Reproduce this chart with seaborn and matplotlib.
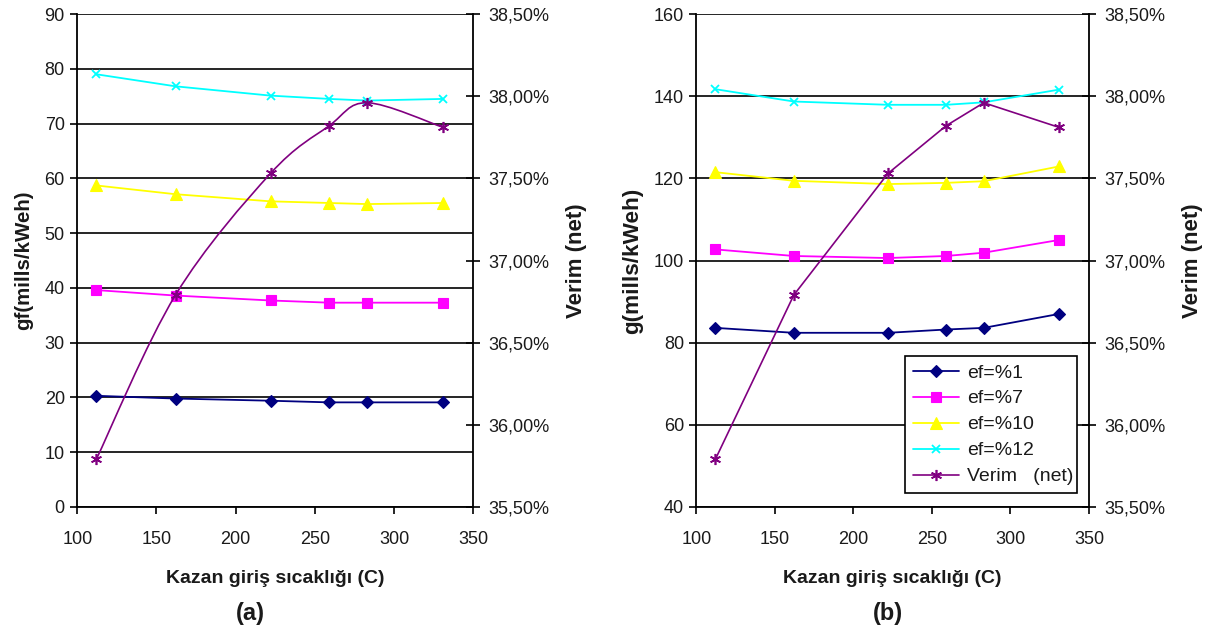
import matplotlib
matplotlib.use("Agg")
import matplotlib.pyplot as plt
import seaborn as sns
from matplotlib.path import Path
from matplotlib.patches import PathPatch
from matplotlib.ticker import FuncFormatter, MultipleLocator

# Boiler inlet temperature (C)
temps = [112, 162, 222, 259, 283, 331]

# Panel (a): gf (mills/kWeh) for each ef level
a_ef1 = [20.3, 19.8, 19.4, 19.1, 19.1, 19.1]
a_ef7 = [39.6, 38.6, 37.7, 37.3, 37.3, 37.3]
a_ef10 = [58.7, 57.1, 55.8, 55.5, 55.3, 55.5]
a_ef12 = [79.0, 76.8, 75.1, 74.5, 74.2, 74.5]

# Panel (b): g (mills/kWeh) for each ef level
b_ef1 = [83.6, 82.4, 82.4, 83.2, 83.6, 87.0]
b_ef7 = [102.7, 101.1, 100.6, 101.1, 101.9, 105.0]
b_ef10 = [121.5, 119.4, 118.6, 118.9, 119.3, 122.9]
b_ef12 = [141.7, 138.7, 137.9, 137.9, 138.5, 141.6]

# Net efficiency (%), same in both panels
verim = [35.79, 36.79, 37.53, 37.82, 37.96, 37.81]

series_labels = ["ef=%1", "ef=%7", "ef=%10", "ef=%12"]
verim_label = "Verim   (net)"

sns.set_theme(style="white")
plt.rcParams["font.family"] = ["Liberation Sans", "DejaVu Sans"]

TXT = "#1a1a1a"
colors = ["#000080", "#FF00FF", "#FFFF00", "#00FFFF"]
markers = ["D", "s", "^", "x"]
msizes = [6.5, 7.5, 8, 6]
VCOL = "#800080"
VMARK = (6, 2, 0)

fig = plt.figure(figsize=(12.23, 6.37), dpi=100)
axA = fig.add_axes([0.0632, 0.2041, 0.3238, 0.7739])
axB = fig.add_axes([0.5695, 0.2041, 0.3209, 0.7739])


def smooth_path(xs, ys):
    # Cardinal-spline style Bezier through the points
    pts = list(zip(xs, ys))
    n = len(pts)
    verts = [pts[0]]
    codes = [Path.MOVETO]
    for i in range(n - 1):
        p0 = pts[i - 1] if i > 0 else pts[i]
        p1 = pts[i]
        p2 = pts[i + 1]
        p3 = pts[i + 2] if i + 2 < n else pts[i + 1]
        c1 = (p1[0] + (p2[0] - p0[0]) / 6, p1[1] + (p2[1] - p0[1]) / 6)
        c2 = (p2[0] - (p3[0] - p1[0]) / 6, p2[1] - (p3[1] - p1[1]) / 6)
        verts += [c1, c2, p2]
        codes += [Path.CURVE4] * 3
    return Path(verts, codes)


def draw_panel(ax, groups, ylim, ystep, ylabel, ylabel_size, tag, tag_x,
               smooth, legend):
    for vals, col, mk, ms, lab in zip(groups, colors, markers, msizes, series_labels):
        sns.lineplot(x=temps, y=vals, ax=ax, color=col, marker=mk, markersize=ms,
                     markeredgecolor=col, markeredgewidth=1.3 if mk == "x" else 0.8,
                     linewidth=1.3, label=lab, zorder=3)
    if ax.get_legend() is not None:
        ax.get_legend().remove()

    ax.set_xlim(100, 350)
    ax.set_ylim(*ylim)
    ax.xaxis.set_major_locator(MultipleLocator(50))
    ax.yaxis.set_major_locator(MultipleLocator(ystep))
    ax.grid(axis="y", color="black", linewidth=1.2, zorder=0)
    ax.grid(axis="x", visible=False)
    ax.set_axisbelow(True)
    ax.get_ygridlines()[-1].set_color("#999999")
    for s in ["top", "right"]:
        ax.spines[s].set_visible(False)
    for s in ["left", "bottom"]:
        ax.spines[s].set_color("black")
        ax.spines[s].set_linewidth(1.3)
    ax.tick_params(axis="both", direction="out", length=5, width=1.2, color="black",
                   labelsize=13, labelcolor=TXT, left=True, bottom=True, pad=4)
    ax.tick_params(axis="x", pad=12)
    ax.set_xlabel("Kazan giriş sıcaklığı (C)", fontsize=14, fontweight="bold",
                  color=TXT, labelpad=16)
    ax.set_ylabel(ylabel, fontsize=ylabel_size, fontweight="bold", color=TXT,
                  labelpad=8)

    ax2 = ax.twinx()
    if smooth:
        sns.lineplot(x=temps, y=verim, ax=ax2, color=VCOL, marker=VMARK, markersize=8,
                     markeredgecolor=VCOL, markeredgewidth=1.2, linestyle="none",
                     label=verim_label, zorder=4)
        ax2.add_patch(PathPatch(smooth_path(temps, verim), facecolor="none",
                                edgecolor=VCOL, linewidth=1.2, zorder=4))
    else:
        sns.lineplot(x=temps, y=verim, ax=ax2, color=VCOL, marker=VMARK, markersize=8,
                     markeredgecolor=VCOL, markeredgewidth=1.2, linewidth=1.2,
                     label=verim_label, zorder=4)
    if ax2.get_legend() is not None:
        ax2.get_legend().remove()
    ax2.set_ylim(35.5, 38.5)
    ax2.yaxis.set_major_locator(MultipleLocator(0.5))
    ax2.yaxis.set_major_formatter(
        FuncFormatter(lambda v, p: f"{v:.2f}".replace(".", ",") + "%"))
    ax2.grid(False)
    for s in ["top", "left", "bottom"]:
        ax2.spines[s].set_visible(False)
    ax2.spines["right"].set_color("black")
    ax2.spines["right"].set_linewidth(1.3)
    ax2.tick_params(axis="y", direction="inout", length=10, width=1.2, color="black",
                    labelsize=13, labelcolor=TXT, right=True, pad=6)
    ax2.set_ylabel("Verim (net)", fontsize=16, fontweight="bold", color=TXT,
                   labelpad=12)

    ax.text(tag_x, -0.217, tag, transform=ax.transAxes, ha="center", va="center",
            fontsize=17, fontweight="bold", color=TXT)

    if legend:
        h1, l1 = ax.get_legend_handles_labels()
        h2, l2 = ax2.get_legend_handles_labels()
        leg = ax2.legend(h1 + h2, l1 + l2, loc="lower left",
                         bbox_to_anchor=(0.531, 0.028, 0.438, 0.282), mode="expand",
                         fontsize=14, frameon=True, fancybox=False, framealpha=1,
                         edgecolor="black", handlelength=2.4, handletextpad=0.4,
                         labelspacing=0.43, borderpad=0.4, borderaxespad=0)
        leg.get_frame().set_linewidth(1.2)
        for t in leg.get_texts():
            t.set_color(TXT)
        leg.set_zorder(10)
    return ax2


draw_panel(axA, [a_ef1, a_ef7, a_ef10, a_ef12], (0, 90), 10,
           "gf(mills/kWeh)", 14.8, "(a)", 0.437, smooth=True, legend=False)
draw_panel(axB, [b_ef1, b_ef7, b_ef10, b_ef12], (40, 160), 20,
           "g(mills/kWeh)", 16.2, "(b)", 0.489, smooth=False, legend=True)

fig.savefig("out.png", dpi=100, facecolor="white")
